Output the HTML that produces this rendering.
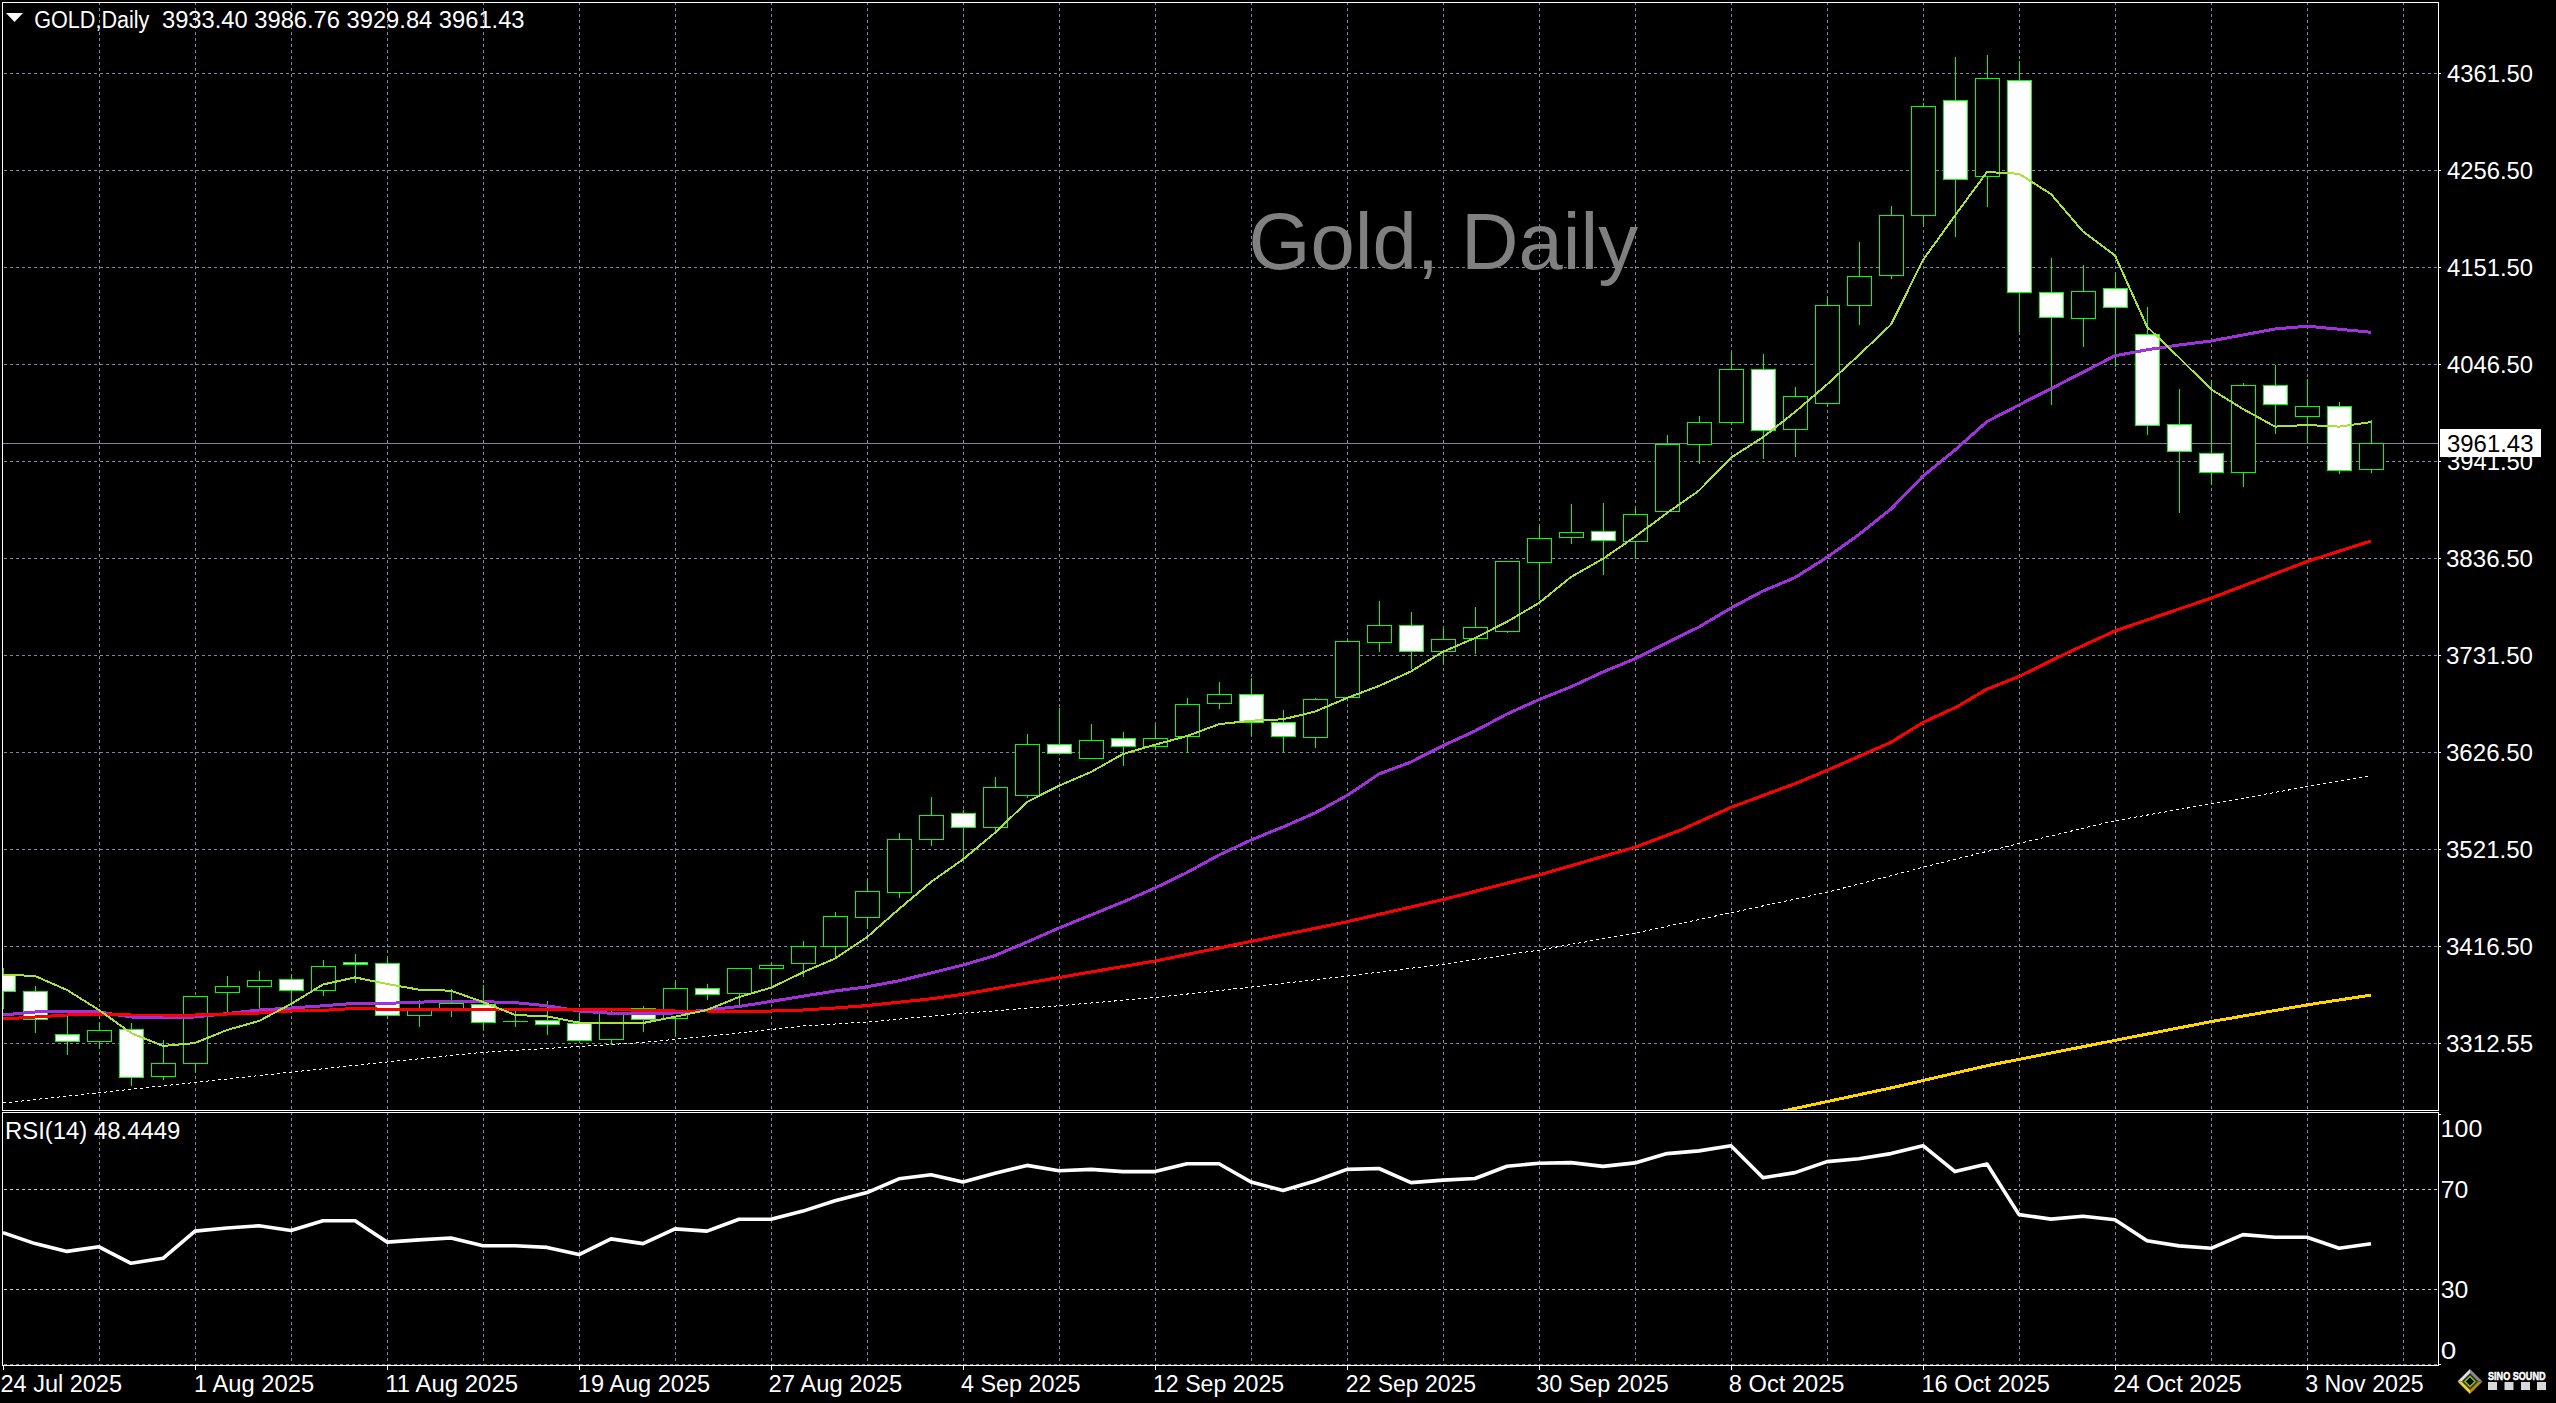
<!DOCTYPE html>
<html><head><meta charset="utf-8"><title>GOLD,Daily</title>
<style>html,body{margin:0;padding:0;background:#000;overflow:hidden;}svg{display:block;}text{font-family:"Liberation Sans", sans-serif;}</style>
</head><body>
<svg width="2556" height="1403" viewBox="0 0 2556 1403">
<rect x="0" y="0" width="2556" height="1403" fill="#000"/>
<defs><clipPath id="cm"><rect x="3" y="3" width="2435" height="1107"/></clipPath><clipPath id="cr"><rect x="3" y="1113" width="2435" height="252"/></clipPath></defs>
<path d="M99.5 3V1110M195.5 3V1110M291.5 3V1110M387.5 3V1110M483.5 3V1110M579.5 3V1110M675.5 3V1110M771.5 3V1110M867.5 3V1110M963.5 3V1110M1059.5 3V1110M1155.5 3V1110M1251.5 3V1110M1347.5 3V1110M1443.5 3V1110M1539.5 3V1110M1635.5 3V1110M1731.5 3V1110M1827.5 3V1110M1923.5 3V1110M2019.5 3V1110M2115.5 3V1110M2211.5 3V1110M2307.5 3V1110M2403.5 3V1110" stroke="#7b8a9c" stroke-width="1" stroke-dasharray="3 3" stroke-dashoffset="1" fill="none" shape-rendering="crispEdges"/>
<path d="M4 73.5H2438M4 170.5H2438M4 267.5H2438M4 364.5H2438M4 461.5H2438M4 558.5H2438M4 655.5H2438M4 752.5H2438M4 849.5H2438M4 946.5H2438M4 1043.5H2438" stroke="#7b8a9c" stroke-width="1" stroke-dasharray="3 3" fill="none" shape-rendering="crispEdges"/>
<text x="1248.60" y="268.50" font-size="80.50" fill="#808080" textLength="389.42" lengthAdjust="spacingAndGlyphs" xml:space="preserve">Gold, Daily</text>
<path d="M3 443.5H2438" stroke="#778899" stroke-width="1" shape-rendering="crispEdges"/>
<g clip-path="url(#cm)" shape-rendering="crispEdges">
<rect x="3" y="968" width="1" height="41" fill="#00ff00"/>
<rect x="-8.5" y="974.5" width="24" height="17" fill="#ffffff" stroke="#00ff00" stroke-width="1"/>
<rect x="35" y="986" width="1" height="47" fill="#00ff00"/>
<rect x="23.5" y="991.5" width="24" height="28" fill="#ffffff" stroke="#00ff00" stroke-width="1"/>
<rect x="67" y="1013" width="1" height="42" fill="#00ff00"/>
<rect x="55.5" y="1034.5" width="24" height="7" fill="#ffffff" stroke="#00ff00" stroke-width="1"/>
<rect x="99" y="1022" width="1" height="27" fill="#00ff00"/>
<rect x="87.5" y="1030.5" width="24" height="11" fill="#000000" stroke="#00ff00" stroke-width="1"/>
<rect x="131" y="1023" width="1" height="63" fill="#00ff00"/>
<rect x="119.5" y="1029.5" width="24" height="48" fill="#ffffff" stroke="#00ff00" stroke-width="1"/>
<rect x="163" y="1040" width="1" height="40" fill="#00ff00"/>
<rect x="151.5" y="1063.5" width="24" height="13" fill="#000000" stroke="#00ff00" stroke-width="1"/>
<rect x="195" y="996" width="1" height="77" fill="#00ff00"/>
<rect x="183.5" y="996.5" width="24" height="67" fill="#000000" stroke="#00ff00" stroke-width="1"/>
<rect x="227" y="976" width="1" height="38" fill="#00ff00"/>
<rect x="215.5" y="986.5" width="24" height="6" fill="#000000" stroke="#00ff00" stroke-width="1"/>
<rect x="259" y="971" width="1" height="39" fill="#00ff00"/>
<rect x="247.5" y="980.5" width="24" height="6" fill="#000000" stroke="#00ff00" stroke-width="1"/>
<rect x="291" y="974" width="1" height="34" fill="#00ff00"/>
<rect x="279.5" y="979.5" width="24" height="11" fill="#ffffff" stroke="#00ff00" stroke-width="1"/>
<rect x="323" y="960" width="1" height="36" fill="#00ff00"/>
<rect x="311.5" y="966.5" width="24" height="24" fill="#000000" stroke="#00ff00" stroke-width="1"/>
<rect x="355" y="954" width="1" height="29" fill="#00ff00"/>
<rect x="343.5" y="962.5" width="24" height="2" fill="#ffffff" stroke="#00ff00" stroke-width="1"/>
<rect x="387" y="957" width="1" height="61" fill="#00ff00"/>
<rect x="375.5" y="963.5" width="24" height="52" fill="#ffffff" stroke="#00ff00" stroke-width="1"/>
<rect x="419" y="1000" width="1" height="27" fill="#00ff00"/>
<rect x="407.5" y="1009.5" width="24" height="6" fill="#000000" stroke="#00ff00" stroke-width="1"/>
<rect x="451" y="989" width="1" height="28" fill="#00ff00"/>
<rect x="439.5" y="1003.5" width="24" height="5" fill="#000000" stroke="#00ff00" stroke-width="1"/>
<rect x="483" y="985" width="1" height="44" fill="#00ff00"/>
<rect x="471.5" y="1004.5" width="24" height="18" fill="#ffffff" stroke="#00ff00" stroke-width="1"/>
<rect x="515" y="1011" width="1" height="16" fill="#00ff00"/>
<rect x="503" y="1021" width="25" height="1" fill="#00ff00"/>
<rect x="547" y="1001" width="1" height="34" fill="#00ff00"/>
<rect x="535.5" y="1020.5" width="24" height="4" fill="#ffffff" stroke="#00ff00" stroke-width="1"/>
<rect x="579" y="1013" width="1" height="28" fill="#00ff00"/>
<rect x="567.5" y="1023.5" width="24" height="17" fill="#ffffff" stroke="#00ff00" stroke-width="1"/>
<rect x="611" y="1008" width="1" height="37" fill="#00ff00"/>
<rect x="599.5" y="1012.5" width="24" height="27" fill="#000000" stroke="#00ff00" stroke-width="1"/>
<rect x="643" y="1006" width="1" height="26" fill="#00ff00"/>
<rect x="631.5" y="1008.5" width="24" height="11" fill="#ffffff" stroke="#00ff00" stroke-width="1"/>
<rect x="675" y="982" width="1" height="55" fill="#00ff00"/>
<rect x="663.5" y="988.5" width="24" height="30" fill="#000000" stroke="#00ff00" stroke-width="1"/>
<rect x="707" y="984" width="1" height="16" fill="#00ff00"/>
<rect x="695.5" y="988.5" width="24" height="6" fill="#ffffff" stroke="#00ff00" stroke-width="1"/>
<rect x="739" y="968" width="1" height="38" fill="#00ff00"/>
<rect x="727.5" y="968.5" width="24" height="25" fill="#000000" stroke="#00ff00" stroke-width="1"/>
<rect x="771" y="963" width="1" height="24" fill="#00ff00"/>
<rect x="759.5" y="965.5" width="24" height="3" fill="#000000" stroke="#00ff00" stroke-width="1"/>
<rect x="803" y="941" width="1" height="36" fill="#00ff00"/>
<rect x="791.5" y="946.5" width="24" height="17" fill="#000000" stroke="#00ff00" stroke-width="1"/>
<rect x="835" y="912" width="1" height="46" fill="#00ff00"/>
<rect x="823.5" y="916.5" width="24" height="30" fill="#000000" stroke="#00ff00" stroke-width="1"/>
<rect x="867" y="879" width="1" height="50" fill="#00ff00"/>
<rect x="855.5" y="891.5" width="24" height="26" fill="#000000" stroke="#00ff00" stroke-width="1"/>
<rect x="899" y="833" width="1" height="65" fill="#00ff00"/>
<rect x="887.5" y="839.5" width="24" height="53" fill="#000000" stroke="#00ff00" stroke-width="1"/>
<rect x="931" y="797" width="1" height="49" fill="#00ff00"/>
<rect x="919.5" y="815.5" width="24" height="24" fill="#000000" stroke="#00ff00" stroke-width="1"/>
<rect x="963" y="810" width="1" height="48" fill="#00ff00"/>
<rect x="951.5" y="813.5" width="24" height="14" fill="#ffffff" stroke="#00ff00" stroke-width="1"/>
<rect x="995" y="777" width="1" height="55" fill="#00ff00"/>
<rect x="983.5" y="787.5" width="24" height="40" fill="#000000" stroke="#00ff00" stroke-width="1"/>
<rect x="1027" y="734" width="1" height="64" fill="#00ff00"/>
<rect x="1015.5" y="744.5" width="24" height="51" fill="#000000" stroke="#00ff00" stroke-width="1"/>
<rect x="1059" y="708" width="1" height="46" fill="#00ff00"/>
<rect x="1047.5" y="744.5" width="24" height="9" fill="#ffffff" stroke="#00ff00" stroke-width="1"/>
<rect x="1091" y="724" width="1" height="35" fill="#00ff00"/>
<rect x="1079.5" y="740.5" width="24" height="18" fill="#000000" stroke="#00ff00" stroke-width="1"/>
<rect x="1123" y="732" width="1" height="34" fill="#00ff00"/>
<rect x="1111.5" y="738.5" width="24" height="8" fill="#ffffff" stroke="#00ff00" stroke-width="1"/>
<rect x="1155" y="725" width="1" height="25" fill="#00ff00"/>
<rect x="1143.5" y="738.5" width="24" height="8" fill="#000000" stroke="#00ff00" stroke-width="1"/>
<rect x="1187" y="698" width="1" height="55" fill="#00ff00"/>
<rect x="1175.5" y="704.5" width="24" height="32" fill="#000000" stroke="#00ff00" stroke-width="1"/>
<rect x="1219" y="682" width="1" height="27" fill="#00ff00"/>
<rect x="1207.5" y="694.5" width="24" height="9" fill="#000000" stroke="#00ff00" stroke-width="1"/>
<rect x="1251" y="678" width="1" height="58" fill="#00ff00"/>
<rect x="1239.5" y="694.5" width="24" height="28" fill="#ffffff" stroke="#00ff00" stroke-width="1"/>
<rect x="1283" y="710" width="1" height="42" fill="#00ff00"/>
<rect x="1271.5" y="722.5" width="24" height="14" fill="#ffffff" stroke="#00ff00" stroke-width="1"/>
<rect x="1315" y="698" width="1" height="50" fill="#00ff00"/>
<rect x="1303.5" y="699.5" width="24" height="38" fill="#000000" stroke="#00ff00" stroke-width="1"/>
<rect x="1347" y="640" width="1" height="61" fill="#00ff00"/>
<rect x="1335.5" y="641.5" width="24" height="56" fill="#000000" stroke="#00ff00" stroke-width="1"/>
<rect x="1379" y="601" width="1" height="51" fill="#00ff00"/>
<rect x="1367.5" y="625.5" width="24" height="17" fill="#000000" stroke="#00ff00" stroke-width="1"/>
<rect x="1411" y="612" width="1" height="57" fill="#00ff00"/>
<rect x="1399.5" y="625.5" width="24" height="26" fill="#ffffff" stroke="#00ff00" stroke-width="1"/>
<rect x="1443" y="628" width="1" height="37" fill="#00ff00"/>
<rect x="1431.5" y="639.5" width="24" height="12" fill="#000000" stroke="#00ff00" stroke-width="1"/>
<rect x="1475" y="607" width="1" height="47" fill="#00ff00"/>
<rect x="1463.5" y="627.5" width="24" height="11" fill="#000000" stroke="#00ff00" stroke-width="1"/>
<rect x="1507" y="561" width="1" height="72" fill="#00ff00"/>
<rect x="1495.5" y="561.5" width="24" height="70" fill="#000000" stroke="#00ff00" stroke-width="1"/>
<rect x="1539" y="526" width="1" height="74" fill="#00ff00"/>
<rect x="1527.5" y="538.5" width="24" height="24" fill="#000000" stroke="#00ff00" stroke-width="1"/>
<rect x="1571" y="504" width="1" height="40" fill="#00ff00"/>
<rect x="1559.5" y="532.5" width="24" height="5" fill="#000000" stroke="#00ff00" stroke-width="1"/>
<rect x="1603" y="503" width="1" height="72" fill="#00ff00"/>
<rect x="1591.5" y="531.5" width="24" height="9" fill="#ffffff" stroke="#00ff00" stroke-width="1"/>
<rect x="1635" y="508" width="1" height="51" fill="#00ff00"/>
<rect x="1623.5" y="514.5" width="24" height="27" fill="#000000" stroke="#00ff00" stroke-width="1"/>
<rect x="1667" y="435" width="1" height="78" fill="#00ff00"/>
<rect x="1655.5" y="444.5" width="24" height="67" fill="#000000" stroke="#00ff00" stroke-width="1"/>
<rect x="1699" y="416" width="1" height="48" fill="#00ff00"/>
<rect x="1687.5" y="422.5" width="24" height="22" fill="#000000" stroke="#00ff00" stroke-width="1"/>
<rect x="1731" y="353" width="1" height="71" fill="#00ff00"/>
<rect x="1719.5" y="369.5" width="24" height="53" fill="#000000" stroke="#00ff00" stroke-width="1"/>
<rect x="1763" y="354" width="1" height="105" fill="#00ff00"/>
<rect x="1751.5" y="369.5" width="24" height="61" fill="#ffffff" stroke="#00ff00" stroke-width="1"/>
<rect x="1795" y="387" width="1" height="70" fill="#00ff00"/>
<rect x="1783.5" y="396.5" width="24" height="33" fill="#000000" stroke="#00ff00" stroke-width="1"/>
<rect x="1827" y="297" width="1" height="109" fill="#00ff00"/>
<rect x="1815.5" y="305.5" width="24" height="98" fill="#000000" stroke="#00ff00" stroke-width="1"/>
<rect x="1859" y="242" width="1" height="83" fill="#00ff00"/>
<rect x="1847.5" y="276.5" width="24" height="29" fill="#000000" stroke="#00ff00" stroke-width="1"/>
<rect x="1891" y="206" width="1" height="73" fill="#00ff00"/>
<rect x="1879.5" y="215.5" width="24" height="60" fill="#000000" stroke="#00ff00" stroke-width="1"/>
<rect x="1923" y="103" width="1" height="122" fill="#00ff00"/>
<rect x="1911.5" y="106.5" width="24" height="109" fill="#000000" stroke="#00ff00" stroke-width="1"/>
<rect x="1955" y="57" width="1" height="180" fill="#00ff00"/>
<rect x="1943.5" y="100.5" width="24" height="79" fill="#ffffff" stroke="#00ff00" stroke-width="1"/>
<rect x="1987" y="55" width="1" height="152" fill="#00ff00"/>
<rect x="1975.5" y="78.5" width="24" height="98" fill="#000000" stroke="#00ff00" stroke-width="1"/>
<rect x="2019" y="61" width="1" height="271" fill="#00ff00"/>
<rect x="2007.5" y="80.5" width="24" height="212" fill="#ffffff" stroke="#00ff00" stroke-width="1"/>
<rect x="2051" y="258" width="1" height="147" fill="#00ff00"/>
<rect x="2039.5" y="292.5" width="24" height="25" fill="#ffffff" stroke="#00ff00" stroke-width="1"/>
<rect x="2083" y="265" width="1" height="82" fill="#00ff00"/>
<rect x="2071.5" y="291.5" width="24" height="27" fill="#000000" stroke="#00ff00" stroke-width="1"/>
<rect x="2115" y="273" width="1" height="94" fill="#00ff00"/>
<rect x="2103.5" y="288.5" width="24" height="19" fill="#ffffff" stroke="#00ff00" stroke-width="1"/>
<rect x="2147" y="307" width="1" height="128" fill="#00ff00"/>
<rect x="2135.5" y="334.5" width="24" height="91" fill="#ffffff" stroke="#00ff00" stroke-width="1"/>
<rect x="2179" y="389" width="1" height="124" fill="#00ff00"/>
<rect x="2167.5" y="424.5" width="24" height="27" fill="#ffffff" stroke="#00ff00" stroke-width="1"/>
<rect x="2211" y="380" width="1" height="105" fill="#00ff00"/>
<rect x="2199.5" y="453.5" width="24" height="19" fill="#ffffff" stroke="#00ff00" stroke-width="1"/>
<rect x="2243" y="383" width="1" height="104" fill="#00ff00"/>
<rect x="2231.5" y="385.5" width="24" height="87" fill="#000000" stroke="#00ff00" stroke-width="1"/>
<rect x="2275" y="365" width="1" height="69" fill="#00ff00"/>
<rect x="2263.5" y="385.5" width="24" height="19" fill="#ffffff" stroke="#00ff00" stroke-width="1"/>
<rect x="2307" y="379" width="1" height="64" fill="#00ff00"/>
<rect x="2295.5" y="406.5" width="24" height="10" fill="#000000" stroke="#00ff00" stroke-width="1"/>
<rect x="2339" y="402" width="1" height="72" fill="#00ff00"/>
<rect x="2327.5" y="406.5" width="24" height="64" fill="#ffffff" stroke="#00ff00" stroke-width="1"/>
<rect x="2371" y="420" width="1" height="53" fill="#00ff00"/>
<rect x="2359.5" y="443.5" width="24" height="26" fill="#000000" stroke="#00ff00" stroke-width="1"/>
</g>
<g clip-path="url(#cm)" fill="none" stroke-linejoin="round">
<polyline points="3.0,1103.0 330.0,1068.0 387.0,1062.0 483.0,1052.3 579.0,1046.5 643.0,1042.5 739.0,1033.0 803.0,1026.0 867.0,1022.0 960.0,1013.5 1059.6,1005.7 1155.6,997.5 1251.7,987.0 1347.8,976.0 1443.5,964.3 1539.6,950.0 1636.0,932.9 1731.5,912.6 1827.5,892.2 1923.4,867.2 2019.6,843.3 2115.5,820.6 2211.6,803.8 2307.5,786.6 2369.3,776.3" stroke="#ffffff" stroke-width="1" stroke-dasharray="3 3" shape-rendering="crispEdges"/>
<polyline points="1700.0,1129.0 1786.5,1110.3 1893.0,1087.5 1987.0,1065.7 2115.3,1040.3 2211.7,1021.5 2307.6,1004.8 2371.0,995.1" stroke="#ffd700" stroke-width="3" shape-rendering="crispEdges"/>
<polyline points="3.0,1015.0 35.0,1012.0 67.0,1011.0 99.0,1012.0 131.0,1017.0 163.0,1017.5 195.0,1017.0 227.0,1013.6 259.0,1010.0 291.0,1008.0 323.0,1005.8 355.0,1003.3 387.0,1003.3 419.0,1002.2 451.0,1001.0 483.0,1001.7 515.0,1002.6 547.0,1005.8 579.0,1011.0 611.0,1013.3 643.0,1013.3 675.0,1013.0 707.0,1010.0 739.0,1006.5 771.0,1001.4 803.0,996.2 835.0,991.0 867.0,986.8 899.0,980.8 931.0,973.0 963.0,965.0 995.0,955.6 1027.0,942.0 1059.0,928.0 1091.0,915.0 1123.0,902.0 1155.0,888.0 1187.0,872.5 1219.0,855.0 1251.0,840.0 1283.0,827.0 1315.0,813.0 1347.0,795.5 1379.0,774.0 1411.0,762.0 1443.0,745.6 1475.0,731.0 1507.0,714.0 1539.0,699.6 1571.0,686.8 1603.0,672.0 1635.0,658.7 1667.0,642.7 1699.0,627.0 1731.0,608.0 1763.0,591.0 1795.0,577.6 1827.0,557.3 1859.0,534.5 1891.0,509.0 1923.0,476.1 1955.0,450.0 1987.0,421.6 2019.0,405.0 2051.0,388.7 2083.0,372.2 2115.0,355.8 2147.0,349.8 2179.0,345.0 2211.0,341.0 2243.0,335.0 2275.0,329.0 2307.0,326.2 2339.0,329.2 2371.0,332.3" stroke="#a032dc" stroke-width="3" shape-rendering="crispEdges"/>
<polyline points="3.0,1019.0 35.0,1017.0 67.0,1015.0 99.0,1014.6 131.0,1015.0 163.0,1015.0 195.0,1015.0 227.0,1014.0 259.0,1013.0 291.0,1011.0 323.0,1010.4 355.0,1008.4 387.0,1009.3 419.0,1009.7 451.0,1009.5 483.0,1009.5 515.0,1009.5 547.0,1009.5 579.0,1009.5 611.0,1009.5 643.0,1010.3 675.0,1011.0 707.0,1011.0 739.0,1011.0 771.0,1011.0 803.0,1010.0 835.0,1008.0 867.0,1005.6 899.0,1002.2 931.0,998.8 963.0,994.3 1059.6,977.4 1155.6,960.9 1251.7,941.3 1316.5,928.0 1347.8,921.6 1443.5,899.5 1539.6,874.8 1635.7,847.0 1680.0,830.4 1731.0,807.4 1796.7,783.0 1827.0,770.4 1890.6,742.5 1923.5,722.2 1956.5,707.0 1987.0,689.2 2019.0,676.5 2065.6,653.7 2115.3,630.8 2211.7,597.9 2307.6,561.3 2371.0,541.0" stroke="#ff0000" stroke-width="3" shape-rendering="crispEdges"/>
<polyline points="3.0,974.6 35.0,976.0 67.0,990.0 99.0,1010.0 131.0,1033.0 163.0,1046.0 195.0,1043.0 227.0,1030.0 259.0,1021.0 291.0,1004.0 323.0,984.5 355.0,977.4 387.0,983.9 419.0,989.7 451.0,990.7 483.0,1002.0 515.0,1015.0 547.0,1016.4 579.0,1022.6 611.0,1023.0 643.0,1023.0 675.0,1016.7 707.0,1010.0 739.0,997.0 771.0,987.7 803.0,972.3 835.0,958.6 867.0,937.2 899.0,909.0 931.0,882.0 963.0,859.3 995.0,832.8 1027.0,802.0 1059.0,785.7 1091.0,772.0 1123.0,754.0 1155.0,744.7 1187.0,736.0 1219.0,724.2 1251.0,720.7 1283.0,719.3 1315.0,711.6 1347.0,698.0 1379.0,686.0 1411.0,671.4 1443.0,651.7 1475.0,638.0 1507.0,621.8 1539.0,603.0 1571.0,577.0 1603.0,558.8 1635.0,536.8 1667.0,513.0 1699.0,490.6 1731.0,457.6 1763.0,437.2 1795.0,412.0 1827.0,384.5 1859.0,355.0 1891.0,324.6 1923.0,260.0 1955.0,215.6 1987.0,172.0 2019.0,173.8 2051.0,194.1 2083.0,231.6 2115.0,255.5 2147.0,326.7 2179.0,357.5 2211.0,389.3 2243.0,409.0 2275.0,426.6 2307.0,425.0 2339.0,426.6 2371.0,422.1" stroke="#a8e03c" stroke-width="2" shape-rendering="crispEdges"/>
</g>
<path d="M2.5 2.5H2438.5V1110.5H2.5Z" stroke="#fff" stroke-width="1" fill="none" shape-rendering="crispEdges"/>
<path d="M6 13H23L14.5 22Z" fill="#fff"/>
<text x="34.16" y="28.00" font-size="23.00" fill="#fff" textLength="115.26" lengthAdjust="spacingAndGlyphs" xml:space="preserve">GOLD,Daily</text>
<text x="161.99" y="28.00" font-size="23.00" fill="#fff" textLength="362.57" lengthAdjust="spacingAndGlyphs" xml:space="preserve">3933.40 3986.76 3929.84 3961.43</text>
<rect x="2439" y="73" width="2" height="1" fill="#fff"/>
<text x="2446.99" y="82.00" font-size="23.00" fill="#fff" textLength="86.02" lengthAdjust="spacingAndGlyphs" xml:space="preserve">4361.50</text>
<rect x="2439" y="170" width="2" height="1" fill="#fff"/>
<text x="2446.99" y="179.00" font-size="23.00" fill="#fff" textLength="86.02" lengthAdjust="spacingAndGlyphs" xml:space="preserve">4256.50</text>
<rect x="2439" y="267" width="2" height="1" fill="#fff"/>
<text x="2446.99" y="276.00" font-size="23.00" fill="#fff" textLength="86.02" lengthAdjust="spacingAndGlyphs" xml:space="preserve">4151.50</text>
<rect x="2439" y="364" width="2" height="1" fill="#fff"/>
<text x="2446.99" y="373.00" font-size="23.00" fill="#fff" textLength="86.02" lengthAdjust="spacingAndGlyphs" xml:space="preserve">4046.50</text>
<rect x="2439" y="461" width="2" height="1" fill="#fff"/>
<text x="2446.99" y="470.00" font-size="23.00" fill="#fff" textLength="86.02" lengthAdjust="spacingAndGlyphs" xml:space="preserve">3941.50</text>
<rect x="2439" y="558" width="2" height="1" fill="#fff"/>
<text x="2445.95" y="567.00" font-size="23.00" fill="#fff" textLength="87.08" lengthAdjust="spacingAndGlyphs" xml:space="preserve">3836.50</text>
<rect x="2439" y="655" width="2" height="1" fill="#fff"/>
<text x="2445.95" y="664.00" font-size="23.00" fill="#fff" textLength="87.08" lengthAdjust="spacingAndGlyphs" xml:space="preserve">3731.50</text>
<rect x="2439" y="752" width="2" height="1" fill="#fff"/>
<text x="2445.95" y="761.00" font-size="23.00" fill="#fff" textLength="87.08" lengthAdjust="spacingAndGlyphs" xml:space="preserve">3626.50</text>
<rect x="2439" y="849" width="2" height="1" fill="#fff"/>
<text x="2445.95" y="858.00" font-size="23.00" fill="#fff" textLength="87.08" lengthAdjust="spacingAndGlyphs" xml:space="preserve">3521.50</text>
<rect x="2439" y="946" width="2" height="1" fill="#fff"/>
<text x="2445.95" y="955.00" font-size="23.00" fill="#fff" textLength="87.08" lengthAdjust="spacingAndGlyphs" xml:space="preserve">3416.50</text>
<rect x="2439" y="1043" width="2" height="1" fill="#fff"/>
<text x="2445.95" y="1052.00" font-size="23.00" fill="#fff" textLength="87.09" lengthAdjust="spacingAndGlyphs" xml:space="preserve">3312.55</text>
<rect x="2440" y="429" width="101" height="28" fill="#fff"/>
<text x="2447.01" y="452.00" font-size="23.00" fill="#000" textLength="86.44" lengthAdjust="spacingAndGlyphs" xml:space="preserve">3961.43</text>
<path d="M99.5 1113V1365M195.5 1113V1365M291.5 1113V1365M387.5 1113V1365M483.5 1113V1365M579.5 1113V1365M675.5 1113V1365M771.5 1113V1365M867.5 1113V1365M963.5 1113V1365M1059.5 1113V1365M1155.5 1113V1365M1251.5 1113V1365M1347.5 1113V1365M1443.5 1113V1365M1539.5 1113V1365M1635.5 1113V1365M1731.5 1113V1365M1827.5 1113V1365M1923.5 1113V1365M2019.5 1113V1365M2115.5 1113V1365M2211.5 1113V1365M2307.5 1113V1365M2403.5 1113V1365" stroke="#7b8a9c" stroke-width="1" stroke-dasharray="3 3" stroke-dashoffset="1" fill="none" shape-rendering="crispEdges"/>
<path d="M4 1189.5H2438M4 1289.5H2438" stroke="#c8c8c8" stroke-width="1" stroke-dasharray="3 3" fill="none" shape-rendering="crispEdges"/>
<path d="M4 1364.5H2438" stroke="#7b8a9c" stroke-width="1" stroke-dasharray="3 3" fill="none" shape-rendering="crispEdges"/>
<g clip-path="url(#cr)"><polyline points="3.0,1232.6 35.0,1243.6 67.0,1251.4 99.0,1246.8 131.0,1263.3 163.0,1258.3 195.0,1231.1 227.0,1228.0 259.0,1225.8 291.0,1230.5 323.0,1220.8 355.0,1220.8 387.0,1242.1 419.0,1239.9 451.0,1238.0 483.0,1245.8 515.0,1245.8 547.0,1247.4 579.0,1254.6 611.0,1238.9 643.0,1243.6 675.0,1228.9 707.0,1231.1 739.0,1219.2 771.0,1219.2 803.0,1211.1 835.0,1200.7 867.0,1192.6 899.0,1178.8 931.0,1174.8 963.0,1182.0 995.0,1173.2 1027.0,1165.4 1059.0,1170.7 1091.0,1169.4 1123.0,1171.6 1155.0,1171.6 1187.0,1163.8 1219.0,1163.8 1251.0,1182.0 1283.0,1190.4 1315.0,1181.0 1347.0,1169.4 1379.0,1168.5 1411.0,1182.6 1443.0,1180.1 1475.0,1178.5 1507.0,1166.3 1539.0,1163.2 1571.0,1162.6 1603.0,1166.4 1635.0,1162.9 1667.0,1153.6 1699.0,1150.9 1731.0,1145.7 1763.0,1177.7 1795.0,1172.6 1827.0,1161.6 1859.0,1158.8 1891.0,1153.6 1923.0,1145.7 1955.0,1171.6 1987.0,1164.0 2019.0,1214.6 2051.0,1219.1 2083.0,1216.3 2115.0,1219.7 2147.0,1240.7 2179.0,1245.9 2211.0,1248.3 2243.0,1234.6 2275.0,1237.3 2307.0,1237.3 2339.0,1248.3 2371.0,1243.8" stroke="#ffffff" stroke-width="3.6" fill="none" stroke-linejoin="round"/></g>
<path d="M2.5 1112.5H2438.5V1365.5H2.5Z" stroke="#fff" stroke-width="1" fill="none" shape-rendering="crispEdges"/>
<text x="5.00" y="1139.00" font-size="23.00" fill="#fff" textLength="175.33" lengthAdjust="spacingAndGlyphs" xml:space="preserve">RSI(14) 48.4449</text>
<rect x="2439" y="1114" width="2" height="1" fill="#fff"/>
<rect x="2439" y="1364" width="2" height="1" fill="#fff"/>
<text x="2440.63" y="1137.00" font-size="23.00" fill="#fff" textLength="41.66" lengthAdjust="spacingAndGlyphs" xml:space="preserve">100</text>
<text x="2440.79" y="1198.00" font-size="23.00" fill="#fff" textLength="27.53" lengthAdjust="spacingAndGlyphs" xml:space="preserve">70</text>
<text x="2440.79" y="1298.00" font-size="23.00" fill="#fff" textLength="27.53" lengthAdjust="spacingAndGlyphs" xml:space="preserve">30</text>
<text x="2440.81" y="1359.00" font-size="23.00" fill="#fff" textLength="15.48" lengthAdjust="spacingAndGlyphs" xml:space="preserve">0</text>
<rect x="3" y="1366" width="1" height="4" fill="#fff"/>
<text x="0.48" y="1392.00" font-size="23.00" fill="#fff" textLength="121.56" lengthAdjust="spacingAndGlyphs" xml:space="preserve">24 Jul 2025</text>
<rect x="195" y="1366" width="1" height="4" fill="#fff"/>
<text x="193.97" y="1392.00" font-size="23.00" fill="#fff" textLength="120.18" lengthAdjust="spacingAndGlyphs" xml:space="preserve">1 Aug 2025</text>
<rect x="387" y="1366" width="1" height="4" fill="#fff"/>
<text x="385.29" y="1392.00" font-size="23.00" fill="#fff" textLength="132.82" lengthAdjust="spacingAndGlyphs" xml:space="preserve">11 Aug 2025</text>
<rect x="579" y="1366" width="1" height="4" fill="#fff"/>
<text x="577.79" y="1392.00" font-size="23.00" fill="#fff" textLength="132.31" lengthAdjust="spacingAndGlyphs" xml:space="preserve">19 Aug 2025</text>
<rect x="771" y="1366" width="1" height="4" fill="#fff"/>
<text x="768.57" y="1392.00" font-size="23.00" fill="#fff" textLength="133.56" lengthAdjust="spacingAndGlyphs" xml:space="preserve">27 Aug 2025</text>
<rect x="963" y="1366" width="1" height="4" fill="#fff"/>
<text x="961.01" y="1392.00" font-size="23.00" fill="#fff" textLength="119.49" lengthAdjust="spacingAndGlyphs" xml:space="preserve">4 Sep 2025</text>
<rect x="1155" y="1366" width="1" height="4" fill="#fff"/>
<text x="1152.99" y="1392.00" font-size="23.00" fill="#fff" textLength="131.20" lengthAdjust="spacingAndGlyphs" xml:space="preserve">12 Sep 2025</text>
<rect x="1347" y="1366" width="1" height="4" fill="#fff"/>
<text x="1345.82" y="1392.00" font-size="23.00" fill="#fff" textLength="130.26" lengthAdjust="spacingAndGlyphs" xml:space="preserve">22 Sep 2025</text>
<rect x="1539" y="1366" width="1" height="4" fill="#fff"/>
<text x="1536.37" y="1392.00" font-size="23.00" fill="#fff" textLength="132.33" lengthAdjust="spacingAndGlyphs" xml:space="preserve">30 Sep 2025</text>
<rect x="1731" y="1366" width="1" height="4" fill="#fff"/>
<text x="1728.84" y="1392.00" font-size="23.00" fill="#fff" textLength="115.71" lengthAdjust="spacingAndGlyphs" xml:space="preserve">8 Oct 2025</text>
<rect x="1923" y="1366" width="1" height="4" fill="#fff"/>
<text x="1921.47" y="1392.00" font-size="23.00" fill="#fff" textLength="128.30" lengthAdjust="spacingAndGlyphs" xml:space="preserve">16 Oct 2025</text>
<rect x="2115" y="1366" width="1" height="4" fill="#fff"/>
<text x="2113.32" y="1392.00" font-size="23.00" fill="#fff" textLength="128.29" lengthAdjust="spacingAndGlyphs" xml:space="preserve">24 Oct 2025</text>
<rect x="2307" y="1366" width="1" height="4" fill="#fff"/>
<text x="2305.15" y="1392.00" font-size="23.00" fill="#fff" textLength="118.60" lengthAdjust="spacingAndGlyphs" xml:space="preserve">3 Nov 2025</text>
<g>
<path d="M2470 1369L2470 1381.5H2457.5Z" fill="#e2e2e2"/>
<path d="M2470 1369L2482.5 1381.5H2470Z" fill="#8c8c8c"/>
<path d="M2457.5 1381.5H2470V1394Z" fill="#eed630"/>
<path d="M2470 1381.5H2482.5L2470 1394Z" fill="#b08a22"/>
<path d="M2470 1373L2478.5 1381.5H2461.5Z" fill="#303030"/>
<path d="M2461.5 1381.5H2478.5L2470 1390Z" fill="#4a3a12"/>
<path d="M2470 1376.5L2475 1381.5L2470 1386.5L2465 1381.5Z" fill="#000" stroke="#7cc234" stroke-width="1.4"/>
<text x="2488" y="1380" font-size="11.2" font-weight="bold" fill="#fff" stroke="#fff" stroke-width="0.5" textLength="57.5" lengthAdjust="spacingAndGlyphs">SINO SOUND</text>
<rect x="2488" y="1382" width="9" height="8" fill="#f0f0f0" opacity="0.9"/>
<rect x="2504.5" y="1382" width="9" height="8" fill="#f0f0f0" opacity="0.9"/>
<rect x="2521" y="1382" width="9" height="8" fill="#f0f0f0" opacity="0.9"/>
<rect x="2537" y="1382" width="9" height="8" fill="#f0f0f0" opacity="0.9"/>
</g>
</svg></body></html>
